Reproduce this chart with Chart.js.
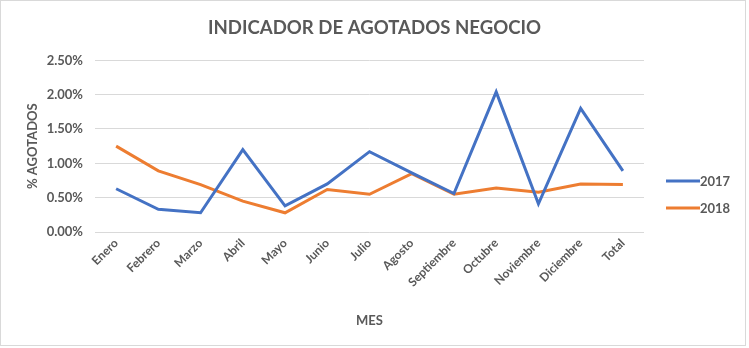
<!DOCTYPE html>
<html>
<head>
<meta charset="utf-8">
<script src="https://cdn.jsdelivr.net/npm/chart.js@4/dist/chart.umd.min.js"></script>
<style>
  html, body { margin: 0; padding: 0; background: #ffffff; }
  #wrap { position: relative; width: 749px; height: 348px; }
</style>
</head>
<body>
<div id="wrap"><canvas id="chart" width="749" height="348"></canvas></div>
<script>
// Monthly stock-out indicator (%), by year
const months = ['Enero', 'Febrero', 'Marzo', 'Abril', 'Mayo', 'Junio', 'Julio',
  'Agosto', 'Septiembre', 'Octubre', 'Noviembre', 'Diciembre', 'Total'];
const values2017 = [0.63, 0.33, 0.28, 1.20, 0.38, 0.70, 1.17, 0.86, 0.56, 2.04, 0.41, 1.80, 0.89];
const values2018 = [1.25, 0.89, 0.69, 0.45, 0.28, 0.62, 0.55, 0.85, 0.55, 0.64, 0.58, 0.70, 0.69];
const yTicks = [0, 0.5, 1.0, 1.5, 2.0, 2.5];

const FONT = 'Lato, "Open Sans", sans-serif';
const GREY = '#595959';

// Right-hand legend as a layout box: reserves its column and draws the series keys
function legendBox(chart) {
  return {
    position: 'right', weight: 0, fullSize: false, options: {},
    left: 0, top: 0, right: 0, bottom: 0, width: 0, height: 0,
    isHorizontal() { return false; },
    update(maxWidth, maxHeight) {
      this.width = 105;
      this.height = maxHeight;
    },
    draw() {
      const c = chart.ctx;
      const x0 = this.left + 22;
      const rows = [181, 208];
      c.save();
      chart.data.datasets.forEach((ds, i) => {
        const y = rows[i];
        c.strokeStyle = ds.borderColor;
        c.lineWidth = 3;
        c.beginPath();
        c.moveTo(x0, y);
        c.lineTo(x0 + 34, y);
        c.stroke();
        c.fillStyle = GREY;
        c.font = 'bold 13px ' + FONT;
        c.textBaseline = 'middle';
        c.textAlign = 'left';
        c.fillText(ds.label, x0 + 34, y + 0.5);
      });
      c.restore();
    }
  };
}

const legendPlugin = {
  id: 'sideLegend',
  beforeInit(chart) {
    chart.$sideLegend = legendBox(chart);
    Chart.layouts.addBox(chart, chart.$sideLegend);
  },
  beforeDraw(chart) {
    const c = chart.ctx;
    c.save();
    c.fillStyle = '#ffffff';
    c.fillRect(0, 0, chart.width, chart.height);
    c.strokeStyle = '#d9d9d9';
    c.lineWidth = 1;
    c.strokeRect(0.5, 0.5, 745, 345);
    c.restore();
  }
};

new Chart(document.getElementById('chart'), {
  type: 'line',
  data: {
    labels: months,
    datasets: [
      { label: '2017', data: values2017, borderColor: '#4472C4', backgroundColor: '#4472C4',
        borderWidth: 3, pointRadius: 0, tension: 0, fill: false },
      { label: '2018', data: values2018, borderColor: '#ED7D31', backgroundColor: '#ED7D31',
        borderWidth: 3, pointRadius: 0, tension: 0, fill: false }
    ]
  },
  options: {
    responsive: false,
    animation: false,
    layout: { padding: 0 },
    plugins: {
      legend: { display: false },
      tooltip: { enabled: false },
      title: {
        display: true,
        text: 'INDICADOR DE AGOTADOS NEGOCIO',
        color: GREY,
        font: { family: FONT, size: 18.6, weight: 'bold' },
        padding: { top: 17, bottom: 21 }
      }
    },
    scales: {
      x: {
        offset: true,
        grid: { display: false, drawTicks: false },
        border: { display: false },
        ticks: {
          color: GREY,
          font: { family: FONT, size: 12, weight: 'bold' },
          maxRotation: 45, minRotation: 45,
          autoSkip: false,
          padding: 4
        },
        title: {
          display: true,
          text: 'MES',
          color: GREY,
          font: { family: FONT, size: 13, weight: 'bold' },
          padding: { top: 0, bottom: 19 }
        },
        afterFit(scale) { scale.height = 116; }
      },
      y: {
        min: 0,
        max: 2.5,
        afterBuildTicks(scale) { scale.ticks = yTicks.map(v => ({ value: v })); },
        grid: { color: '#d9d9d9', lineWidth: 1, drawTicks: false },
        border: { display: false },
        ticks: {
          color: GREY,
          font: { family: FONT, size: 13, weight: 'bold' },
          padding: 12,
          callback: v => Number(v).toFixed(2) + '%'
        },
        title: {
          display: true,
          text: '% AGOTADOS',
          color: GREY,
          font: { family: FONT, size: 13, weight: 'bold' },
          padding: { top: 25, bottom: 0 }
        },
        afterFit(scale) { scale.width = 95; }
      }
    }
  },
  plugins: [legendPlugin]
});
</script>
</body>
</html>
